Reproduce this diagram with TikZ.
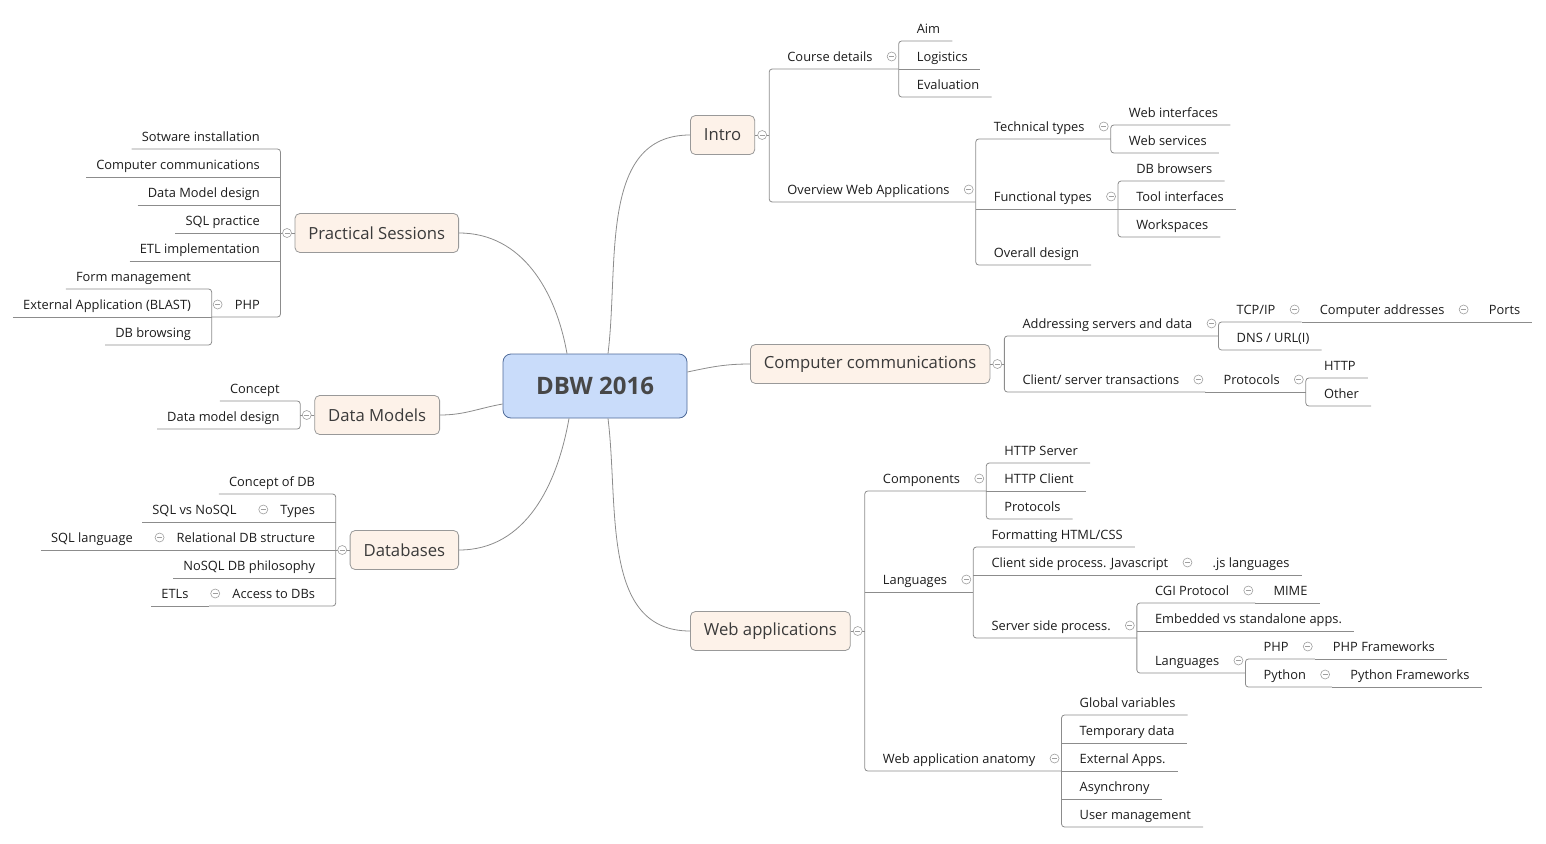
\documentclass[tikz,border=0pt]{standalone}
\usepackage{fontspec}
\setmainfont{Open Sans}
\usepackage{tikz}
\definecolor{linegray}{HTML}{8C8C8C}
\definecolor{topicfill}{HTML}{FDF2E9}
\definecolor{topicdraw}{HTML}{999999}
\definecolor{rootfill}{HTML}{C9DCFA}
\definecolor{rootdraw}{HTML}{4E6A98}
\definecolor{txt}{HTML}{1C1C1C}
\definecolor{toptxt}{HTML}{3A3A3A}
\definecolor{roottxt}{HTML}{474747}
\newcommand\rfork[2]{\draw[branch,rounded corners=3pt] (#1.south east) -- (#1.south west) -- (#2.south west) -- (#2.south east);}
\newcommand\lfork[2]{\draw[branch,rounded corners=3pt] (#1.south west) -- (#1.south east) -- (#2.south east) -- (#2.south west);}

\begin{document}
\begin{tikzpicture}[x=1pt,y=-1pt]
\tikzset{
  branch/.style={draw=linegray,line width=0.8pt},
  item/.style={inner xsep=0pt,inner ysep=0pt,text height=10pt,text depth=7.3pt,text=txt,font=\fontsize{12.85}{15}\selectfont},
  rleaf/.style={item,anchor=south west,execute at begin node=\hspace*{18pt},execute at end node=\hspace*{12pt}},
  rpar/.style={item,anchor=south west,execute at begin node=\hspace*{18pt},execute at end node=\hspace*{26pt}},
  lleaf/.style={item,anchor=south east,execute at begin node=\hspace*{10pt},execute at end node=\hspace*{20.5pt}},
  lpar/.style={item,anchor=south east,execute at begin node=\hspace*{23pt},execute at end node=\hspace*{20.5pt}},
  topic/.style={draw=topicdraw,fill=topicfill,rounded corners=5pt,line width=0.8pt,minimum height=39pt,inner xsep=13.5pt,text=toptxt,font=\fontsize{16.7}{19}\selectfont},
  root/.style={draw=rootdraw,fill=rootfill,rounded corners=8pt,line width=0.8pt,minimum width=184pt,minimum height=64pt,text=roottxt,font=\fontsize{24}{28}\selectfont\bfseries},
  fold/.style={circle,draw=gray!75,fill=white,line width=0.6pt,minimum size=9pt,inner sep=0pt,
    path picture={\draw[gray!75,line width=0.6pt] ([xshift=-2.5pt]path picture bounding box.center) -- ([xshift=2.5pt]path picture bounding box.center);}}
}
\useasboundingbox (0,0) rectangle (1546,843);

\node[root] (dbw) at (595,386) {DBW 2016};
\node[topic,anchor=west] (intro) at (690,135) {Intro};
\node[topic,anchor=west] (cc) at (750,364) {Computer communications};
\node[topic,anchor=west] (wa) at (690,631) {Web applications};
\node[topic,anchor=east] (ps) at (459,233) {Practical Sessions};
\node[topic,anchor=east] (dm) at (440,415) {Data Models};
\node[topic,anchor=east] (db) at (459,550) {Databases};

\draw[branch] ([xshift=-28pt]dbw.north) to[out=100,in=0] (ps.east);
\draw[branch] ([xshift=13pt]dbw.north) to[out=83,in=180] (intro.west);
\draw[branch] ([yshift=14pt]dbw.east) to[out=12,in=180] (cc.west);
\draw[branch] ([yshift=-18pt]dbw.west) to[out=190,in=0] (dm.east);
\draw[branch] ([xshift=-26pt]dbw.south) to[out=-100,in=0] (db.east);
\draw[branch] ([xshift=13pt]dbw.south) to[out=-83,in=180] (wa.west);

\node[rpar] (cd) at ([xshift=14pt,yshift=66pt]intro.east) {Course details};
\node[rleaf] (aim) at ([yshift=28pt]cd.south east) {Aim};
\node[rleaf] (log) at (cd.south east) {Logistics};
\node[rleaf] (eva) at ([yshift=-28pt]cd.south east) {Evaluation};
\node[rpar] (ov) at ([xshift=14pt,yshift=-67pt]intro.east) {Overview Web Applications};
\node[rpar] (tt) at ([yshift=63pt]ov.south east) {Technical types};
\node[rleaf] (wi) at ([yshift=14pt]tt.south east) {Web interfaces};
\node[rleaf] (ws) at ([yshift=-14pt]tt.south east) {Web services};
\node[rpar] (ft) at ([yshift=-7pt]ov.south east) {Functional types};
\node[rleaf] (dbb) at ([yshift=28pt]ft.south east) {DB browsers};
\node[rleaf] (ti) at (ft.south east) {Tool interfaces};
\node[rleaf] (wsp) at ([yshift=-28pt]ft.south east) {Workspaces};
\node[rleaf] (od) at ([yshift=-63pt]ov.south east) {Overall design};

\node[lleaf] (si) at ([xshift=-14pt,yshift=84pt]ps.west) {Sotware installation};
\node[lleaf] (pcc) at ([xshift=-14pt,yshift=56pt]ps.west) {Computer communications};
\node[lleaf] (dmd) at ([xshift=-14pt,yshift=28pt]ps.west) {Data Model design};
\node[lleaf] (sql) at ([xshift=-14pt]ps.west) {SQL practice};
\node[lleaf] (etl) at ([xshift=-14pt,yshift=-28pt]ps.west) {ETL implementation};
\node[lpar] (php) at ([xshift=-14pt,yshift=-84pt]ps.west) {PHP};
\node[lleaf] (fm) at ([yshift=28pt]php.south west) {Form management};
\node[lleaf] (ea) at (php.south west) {External Application (BLAST)};
\node[lleaf] (dbr) at ([yshift=-28pt]php.south west) {DB browsing};

\node[lleaf] (con) at ([xshift=-14pt,yshift=14pt]dm.west) {Concept};
\node[lleaf] (dmd2) at ([xshift=-14pt,yshift=-14pt]dm.west) {Data model design};

\node[lleaf] (cdb) at ([xshift=-14pt,yshift=56pt]db.west) {Concept of DB};
\node[lpar] (typ) at ([xshift=-14pt,yshift=28pt]db.west) {Types};
\node[lleaf] (sqln) at (typ.south west) {SQL vs NoSQL};
\node[lpar] (rel) at ([xshift=-14pt]db.west) {Relational DB structure};
\node[lleaf] (sqll) at (rel.south west) {SQL language};
\node[lleaf] (nos) at ([xshift=-14pt,yshift=-28pt]db.west) {NoSQL DB philosophy};
\node[lpar] (acc) at ([xshift=-14pt,yshift=-56pt]db.west) {Access to DBs};
\node[lleaf] (etls) at (acc.south west) {ETLs};

\node[rpar] (asd) at ([xshift=14pt,yshift=28pt]cc.east) {Addressing servers and data};
\node[rpar] (tcp) at ([yshift=14pt]asd.south east) {TCP/IP};
\node[rpar] (cad) at (tcp.south east) {Computer addresses};
\node[rleaf] (ports) at (cad.south east) {Ports};
\node[rleaf] (dns) at ([yshift=-14pt]asd.south east) {DNS / URL(I)};
\node[rpar] (cst) at ([xshift=14pt,yshift=-28pt]cc.east) {Client/ server transactions};
\node[rpar] (prot) at (cst.south east) {Protocols};
\node[rleaf] (http) at ([yshift=14pt]prot.south east) {HTTP};
\node[rleaf] (oth) at ([yshift=-14pt]prot.south east) {Other};

\node[rpar] (comp) at ([xshift=14pt,yshift=140pt]wa.east) {Components};
\node[rleaf] (hs) at ([yshift=28pt]comp.south east) {HTTP Server};
\node[rleaf] (hc) at (comp.south east) {HTTP Client};
\node[rleaf] (pr) at ([yshift=-28pt]comp.south east) {Protocols};
\node[rpar] (lang) at ([xshift=14pt,yshift=39pt]wa.east) {Languages};
\node[rleaf] (fmt) at ([yshift=45pt]lang.south east) {Formatting HTML/CSS};
\node[rpar] (csp) at ([yshift=17pt]lang.south east) {Client side process. Javascript};
\node[rleaf] (js) at (csp.south east) {.js languages};
\node[rpar] (ssp) at ([yshift=-46pt]lang.south east) {Server side process.};
\node[rpar] (cgi) at ([yshift=35pt]ssp.south east) {CGI Protocol};
\node[rleaf] (mime) at (cgi.south east) {MIME};
\node[rleaf] (emb) at ([yshift=7pt]ssp.south east) {Embedded vs standalone apps.};
\node[rpar] (lng) at ([yshift=-35pt]ssp.south east) {Languages};
\node[rpar] (phpl) at ([yshift=14pt]lng.south east) {PHP};
\node[rleaf] (phpf) at (phpl.south east) {PHP Frameworks};
\node[rpar] (py) at ([yshift=-14pt]lng.south east) {Python};
\node[rleaf] (pyf) at (py.south east) {Python Frameworks};
\node[rpar] (waa) at ([xshift=14pt,yshift=-140pt]wa.east) {Web application anatomy};
\node[rleaf] (gv) at ([yshift=56pt]waa.south east) {Global variables};
\node[rleaf] (tmp) at ([yshift=28pt]waa.south east) {Temporary data};
\node[rleaf] (ext) at (waa.south east) {External Apps.};
\node[rleaf] (asy) at ([yshift=-28pt]waa.south east) {Asynchrony};
\node[rleaf] (um) at ([yshift=-56pt]waa.south east) {User management};

\draw[branch] (intro.east) -- (intro.east -| cd.south west);
\draw[branch] (cc.east) -- (cc.east -| asd.south west);
\draw[branch] (wa.east) -- (wa.east -| comp.south west);
\draw[branch] (ps.west) -- (ps.west -| si.south east);
\draw[branch] (dm.west) -- (dm.west -| con.south east);
\draw[branch] (db.west) -- (db.west -| cdb.south east);

\rfork{cd}{ov} \rfork{aim}{eva} \rfork{tt}{od} \rfork{wi}{ws} \rfork{dbb}{wsp}
\lfork{si}{php} \lfork{fm}{dbr} \lfork{con}{dmd2} \lfork{cdb}{acc}
\rfork{asd}{cst} \rfork{tcp}{dns} \rfork{http}{oth}
\rfork{comp}{waa} \rfork{hs}{pr} \rfork{fmt}{ssp} \rfork{cgi}{lng} \rfork{phpl}{py} \rfork{gv}{um}
\foreach \n in {log,ft,ti,pcc,dmd,sql,etl,ea,typ,sqln,rel,sqll,nos,etls,cad,ports,prot,hc,lang,csp,js,emb,mime,phpf,pyf,tmp,ext,asy}
  \draw[branch] (\n.south west) -- (\n.south east);

\foreach \n in {intro,cc,wa}
  \node[fold] (f\n) at ([xshift=7pt]\n.east) {};
\foreach \n in {ps,dm,db}
  \node[fold] (f\n) at ([xshift=-7.5pt]\n.west) {};
\foreach \n in {cd,ov,tt,ft,asd,tcp,cad,cst,prot,comp,lang,csp,ssp,cgi,lng,phpl,py,waa}
  \node[fold] (f\n) at ([xshift=-7pt,yshift=12.5pt]\n.south east) {};
\foreach \n in {php,typ,rel,acc}
  \node[fold] (f\n) at ([xshift=6pt,yshift=12.5pt]\n.south west) {};
\end{tikzpicture}
\end{document}
